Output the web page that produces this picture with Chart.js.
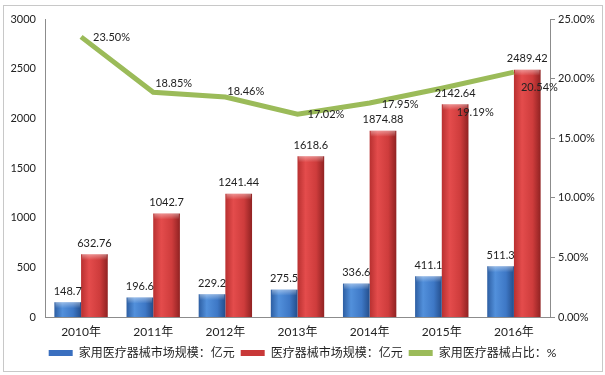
<!DOCTYPE html>
<html>
<head>
<meta charset="utf-8">
<script src="https://cdn.jsdelivr.net/npm/chart.js@4.4.1/dist/chart.umd.min.js"></script>
<style>
  body { margin: 0; background: #fff; }
  #wrap { width: 605px; height: 375px; position: relative; }
</style>
</head>
<body>
<div id="wrap"><canvas id="myChart" width="605" height="375"></canvas></div>
<script>
// data
let years = ['2010年', '2011年', '2012年', '2013年', '2014年', '2015年', '2016年'];
let homeMarket = [148.7, 196.6, 229.2, 275.5, 336.6, 411.1, 511.3];
let totalMarket = [632.76, 1042.7, 1241.44, 1618.6, 1874.88, 2142.64, 2489.42];
let homeShare = [23.50, 18.85, 18.46, 17.02, 17.95, 19.19, 20.54];

let seriesNames = ['家用医疗器械市场规模：亿元', '医疗器械市场规模：亿元', '家用医疗器械占比：%'];
let legendColors = ['#3A6FBF', '#C83838', '#9BBB59'];

// where each % label sits relative to its point (dx, dy)
let shareLabelOffset = [[12, 1], [2, -9], [2, -6], [10, 0], [12, 1], [15, 24], [7, 15]];

let fontFamily = "Lato, 'Noto Sans CJK SC', sans-serif";

let frame = {
    id: 'frame',
    beforeDraw(chart) {
        let c = chart.ctx;
        c.save();
        c.fillStyle = '#fff';
        c.fillRect(0, 0, chart.width, chart.height);
        c.strokeStyle = '#c8c8c8';
        c.lineWidth = 1;
        c.strokeRect(3.5, 5.5, 599, 366);
        c.restore();
    }
};

let barLook = {
    id: 'barLook',
    beforeDatasetsDraw(chart) {
        let c = chart.ctx;
        let stops = [
            ['#2D5EA2', '#5290DB', '#3E78C6', '#244E8C'],
            ['#B83030', '#E44C4C', '#CE3C3C', '#902222']
        ];
        for (let d = 0; d < 2; d++) {
            chart.getDatasetMeta(d).data.forEach(el => {
                let g = c.createLinearGradient(el.x - el.width / 2, 0, el.x + el.width / 2, 0);
                g.addColorStop(0, stops[d][0]);
                g.addColorStop(0.3, stops[d][1]);
                g.addColorStop(0.7, stops[d][2]);
                g.addColorStop(1, stops[d][3]);
                // options are shared between bars, give each its own copy
                el.options = Object.assign({}, el.options, { backgroundColor: g });
            });
        }
    },
    afterDatasetsDraw(chart) {
        let c = chart.ctx;
        c.save();
        for (let d = 0; d < 2; d++) {
            chart.getDatasetMeta(d).data.forEach(el => {
                let g = c.createLinearGradient(0, el.y, 0, el.y + 6);
                g.addColorStop(0, 'rgba(255,255,255,0.4)');
                g.addColorStop(1, 'rgba(255,255,255,0)');
                c.fillStyle = g;
                c.fillRect(el.x - el.width / 2 + 1, el.y, el.width - 2, 6);
            });
        }
        c.restore();
    }
};

let valueLabels = {
    id: 'valueLabels',
    afterDraw(chart) {
        let c = chart.ctx;
        c.save();
        c.font = '11px ' + fontFamily;
        c.fillStyle = '#222';
        c.textBaseline = 'middle';
        c.textAlign = 'center';
        [homeMarket, totalMarket].forEach((vals, d) => {
            chart.getDatasetMeta(d).data.forEach((el, i) => {
                c.fillText(String(vals[i]), el.x, el.y - 11);
            });
        });
        c.textAlign = 'left';
        chart.getDatasetMeta(2).data.forEach((el, i) => {
            let off = shareLabelOffset[i];
            c.fillText(homeShare[i].toFixed(2) + '%', el.x + off[0], el.y + off[1]);
        });
        c.restore();
    }
};

new Chart('myChart', {
    data: {
        labels: years,
        datasets: [{
            type: 'bar',
            label: seriesNames[0],
            data: homeMarket,
            backgroundColor: legendColors[0],
            yAxisID: 'y',
            categoryPercentage: 0.74,
            barPercentage: 1,
            order: 2
        }, {
            type: 'bar',
            label: seriesNames[1],
            data: totalMarket,
            backgroundColor: legendColors[1],
            yAxisID: 'y',
            categoryPercentage: 0.74,
            barPercentage: 1,
            order: 2
        }, {
            type: 'line',
            label: seriesNames[2],
            data: homeShare,
            borderColor: '#9BBB59',
            backgroundColor: '#9BBB59',
            borderWidth: 5,
            pointRadius: 0,
            tension: 0,
            yAxisID: 'y1',
            order: 1
        }]
    },
    options: {
        responsive: false,
        animation: false,
        layout: { padding: { top: 19, left: 0, right: 0, bottom: 6 } },
        scales: {
            x: {
                afterFit(scale) { scale.height = 24; },
                grid: { display: false, drawTicks: false },
                border: { display: true, color: '#8c8c8c' },
                ticks: { color: '#222', font: { size: 12, family: fontFamily }, padding: 8 }
            },
            y: {
                position: 'left',
                min: 0,
                max: 3000,
                afterFit(scale) { scale.width = 45; },
                grid: { display: false, drawTicks: false },
                border: { display: true, color: '#8c8c8c' },
                ticks: {
                    stepSize: 500,
                    color: '#222',
                    font: { size: 11, family: fontFamily },
                    padding: 9,
                    callback: v => String(v)
                }
            },
            y1: {
                position: 'right',
                min: 0,
                max: 25,
                afterFit(scale) { scale.width = 55; },
                grid: { drawOnChartArea: false, drawTicks: true, tickLength: 5, color: '#8c8c8c' },
                border: { display: true, color: '#8c8c8c' },
                ticks: {
                    stepSize: 5,
                    color: '#222',
                    font: { size: 11, family: fontFamily },
                    padding: 3,
                    callback: v => v.toFixed(2) + '%'
                }
            }
        },
        plugins: {
            tooltip: { enabled: false },
            legend: {
                position: 'bottom',
                labels: {
                    color: '#222',
                    font: { size: 12, family: fontFamily },
                    boxWidth: 24,
                    boxHeight: 6,
                    padding: 6,
                    generateLabels(chart) {
                        return chart.data.datasets.map((ds, i) => ({
                            text: ds.label,
                            fillStyle: legendColors[i],
                            strokeStyle: legendColors[i],
                            lineWidth: 0,
                            hidden: false,
                            datasetIndex: i,
                            fontColor: '#222'
                        }));
                    }
                }
            }
        }
    },
    plugins: [frame, barLook, valueLabels]
});
</script>
</body>
</html>
